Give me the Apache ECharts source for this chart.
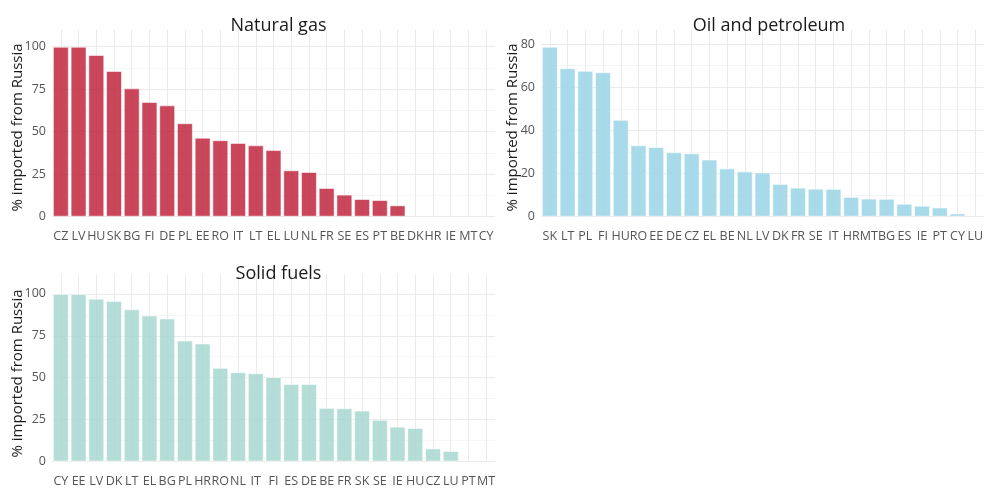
<!DOCTYPE html>
<html>
<head>
<meta charset="utf-8">
<script src="https://cdn.jsdelivr.net/npm/echarts@6/dist/echarts.min.js"></script>
<style>
  html, body { margin: 0; padding: 0; background: #fff; }
  #chart { width: 986px; height: 488px; }
</style>
</head>
<body>
<div id="chart"></div>
<script>
// share of imports coming from Russia, per fuel, sorted descending
const gasCountries = ['CZ', 'LV', 'HU', 'SK', 'BG', 'FI', 'DE', 'PL', 'EE', 'RO', 'IT', 'LT', 'EL', 'LU', 'NL', 'FR', 'SE', 'ES', 'PT', 'BE', 'DK', 'HR', 'IE', 'MT', 'CY']
const gasValues = [100, 100, 95.1, 85.7, 75.5, 67.5, 65.5, 55, 46.5, 45, 43.4, 42, 39.2, 27.3, 26.3, 16.9, 13, 10.4, 9.8, 6.7, 0, 0, 0, 0, 0]

const oilCountries = ['SK', 'LT', 'PL', 'FI', 'HU', 'RO', 'EE', 'DE', 'CZ', 'EL', 'BE', 'NL', 'LV', 'DK', 'FR', 'SE', 'IT', 'HR', 'MT', 'BG', 'ES', 'IE', 'PT', 'CY', 'LU']
const oilValues = [78.8, 68.8, 67.6, 67, 44.9, 33.1, 32.3, 29.9, 29.4, 26.5, 22.4, 21, 20.5, 15.2, 13.5, 13, 12.9, 9.2, 8.4, 8.3, 6, 5.1, 4.3, 1.5, 0]

const solidCountries = ['CY', 'EE', 'LV', 'DK', 'LT', 'EL', 'BG', 'PL', 'HR', 'RO', 'NL', 'IT', 'FI', 'ES', 'DE', 'BE', 'FR', 'SK', 'SE', 'IE', 'HU', 'CZ', 'LU', 'PT', 'MT']
const solidValues = [100, 100, 97.1, 95.7, 90.8, 87.1, 85.3, 72.2, 70.4, 55.9, 53.3, 52.7, 50.4, 46.3, 46.3, 32, 31.8, 30.4, 24.9, 20.8, 20, 7.8, 6.3, 0, 0]

const titles = ['Natural gas', 'Oil and petroleum', 'Solid fuels']
const pctTicks = [0, 25, 50, 75, 100]
const oilTicks = [0, 20, 40, 60, 80]

const FONT = '"Open Sans", "Noto Sans", sans-serif'
const GRID_MAJOR = '#ebebeb'
const GRID_MINOR = '#f5f5f5'
const BELOW_ZERO = 8.5 // ggplot's 5% expansion below 0, in px

const panels = [
  { grid: { left: 52, right: 491, top: 38.2, bottom: 271.3 }, cats: gasCountries, vals: gasValues, ticks: pctTicks, step: 12.5, max: 105, color: 'rgba(193, 39, 62, 0.85)', nameGap: 27 },
  { grid: { left: 541, right: -1, top: 38.2, bottom: 271.3 }, cats: oilCountries, vals: oilValues, ticks: oilTicks, step: 10, max: 82.74, color: 'rgba(160, 214, 232, 0.9)', nameGap: 21 },
  { grid: { left: 52, right: 491, top: 285.5, bottom: 24 }, cats: solidCountries, vals: solidValues, ticks: pctTicks, step: 12.5, max: 105, color: 'rgba(166, 215, 207, 0.85)', nameGap: 27 },
]

const chart = echarts.init(document.getElementById('chart'), null, { renderer: 'canvas' })

const option = {
  animation: false,
  backgroundColor: '#fff',
  textStyle: { fontFamily: FONT },
  title: panels.map((p, i) => ({
    text: titles[i],
    left: (p.grid.left + (986 - p.grid.right)) / 2,
    top: p.grid.top - 26,
    textAlign: 'center',
    textStyle: { fontFamily: FONT, fontSize: 18, fontWeight: 'normal', color: '#1a1a1a' },
  })),
  grid: panels.map((p) => p.grid),
  xAxis: panels.map((p, i) => {
    const h = 488 - p.grid.top - p.grid.bottom
    return {
      type: 'category',
      gridIndex: i,
      data: p.cats,
      offset: BELOW_ZERO,
      axisLine: { show: false },
      // ticks drawn upward through the panel act as the vertical grid lines
      axisTick: { show: true, inside: true, alignWithLabel: true, interval: 0, length: h + BELOW_ZERO, lineStyle: { color: GRID_MAJOR, width: 1 } },
      axisLabel: { interval: 0, margin: 5, fontSize: 12.5, color: '#555', fontFamily: FONT },
      splitLine: { show: false },
    }
  }),
  yAxis: panels.map((p, i) => ({
    type: 'value',
    gridIndex: i,
    min: 0,
    max: p.max,
    interval: p.step,
    name: '% imported from Russia',
    nameLocation: 'middle',
    nameGap: p.nameGap,
    nameMoveOverlap: false,
    nameTextStyle: { fontSize: 15, color: '#1a1a1a', fontFamily: FONT },
    axisLine: { show: false },
    axisTick: { show: false },
    axisLabel: {
      margin: 6,
      fontSize: 12.5,
      color: '#555',
      fontFamily: FONT,
      formatter: (v) => (p.ticks.includes(v) ? String(v) : ''),
    },
    splitLine: { show: true, showMaxLine: false, lineStyle: { color: [GRID_MAJOR, GRID_MINOR], width: 1 } },
  })),
  series: panels.map((p, i) => ({
    type: 'bar',
    xAxisIndex: i,
    yAxisIndex: i,
    // zero-height bars get no outline, as in the original
    data: p.vals.map((v) => (v === 0 ? { value: v, itemStyle: { borderWidth: 0 } } : v)),
    barCategoryGap: '10%',
    itemStyle: { color: p.color, borderColor: 'rgba(255,255,255,0.55)', borderWidth: 1 },
  })),
}

chart.setOption(option)
window.addEventListener('resize', () => chart.resize())
</script>
</body>
</html>
